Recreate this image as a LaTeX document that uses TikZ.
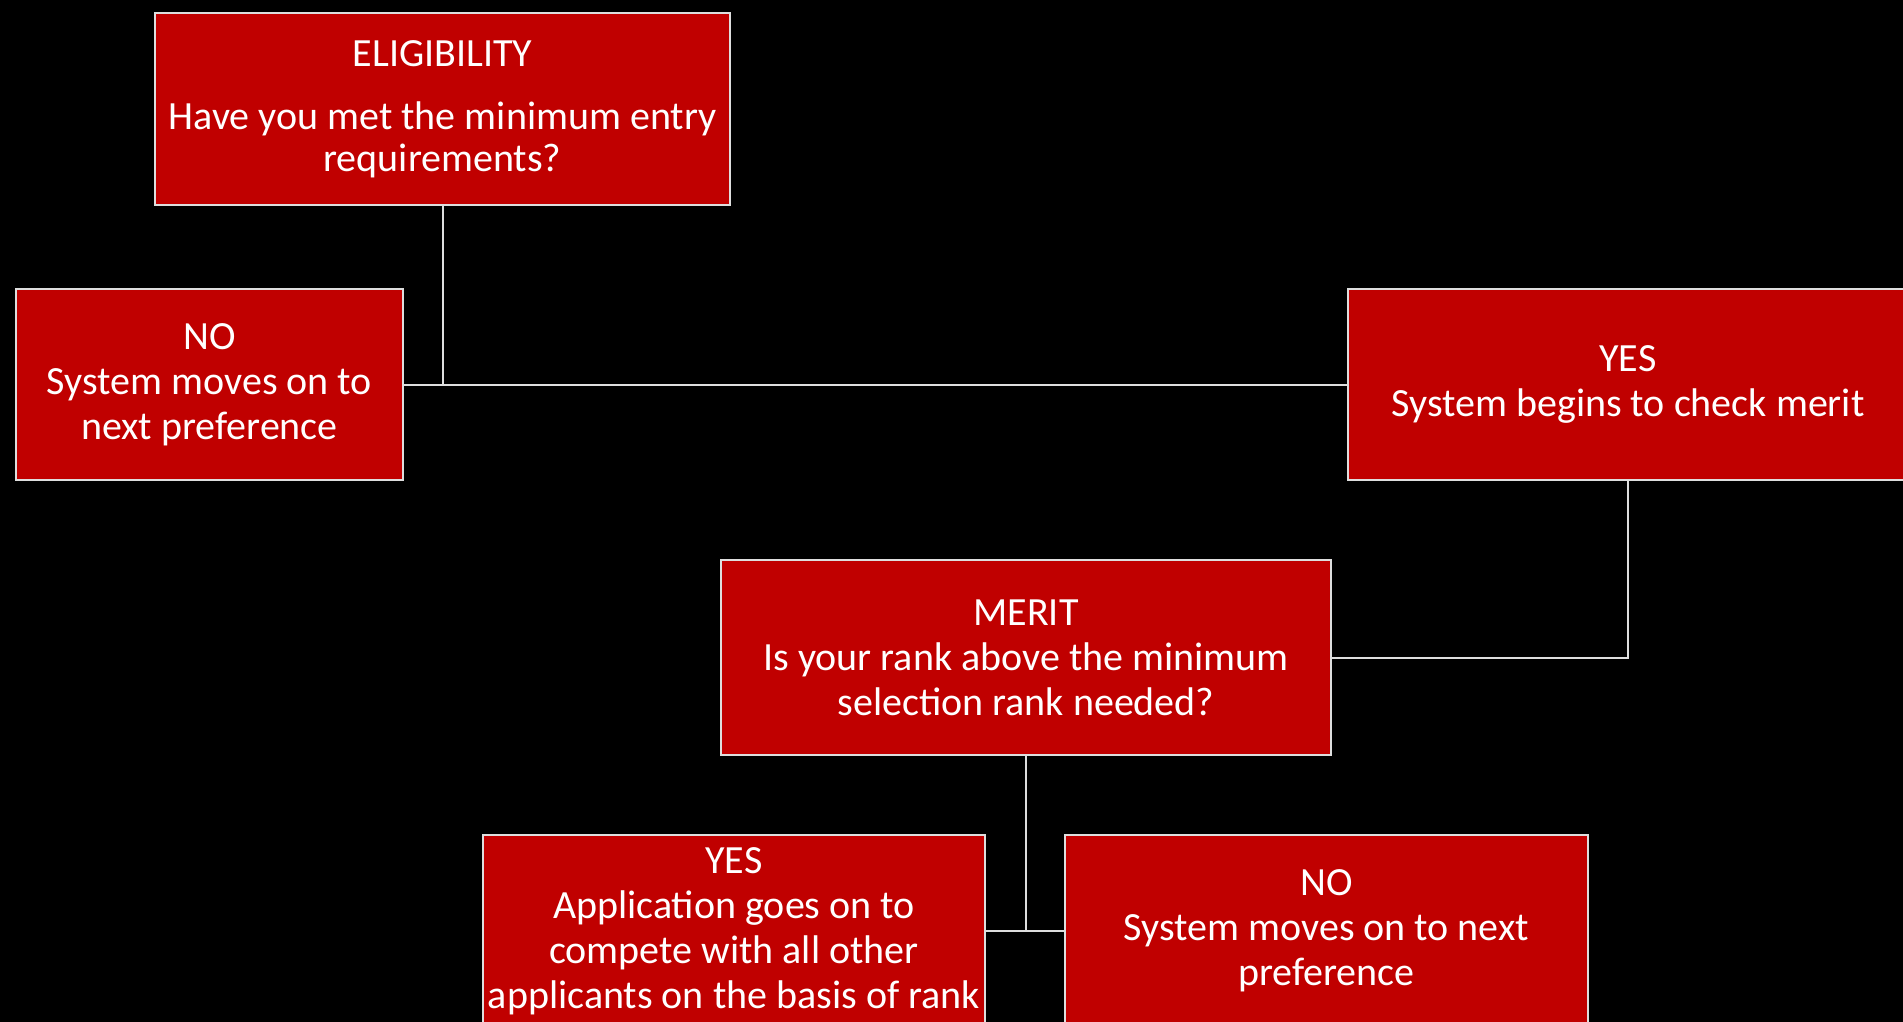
\documentclass[tikz,border=0pt]{standalone}
\usepackage{fontspec}
\setmainfont{Carlito}
\definecolor{boxred}{RGB}{192,0,0}
\definecolor{edgegray}{RGB}{222,222,222}
\tikzset{
  flowbox/.style={draw=edgegray, line width=2pt, fill=boxred, text=white,
    align=center, inner sep=0pt, anchor=north west,
    font=\fontsize{40}{45}\selectfont},
  link/.style={draw=edgegray, line width=2pt}
}
\begin{document}
\begin{tikzpicture}[x=1pt,y=-1pt]
\fill[black] (0,0) rectangle (1903,1022);
\useasboundingbox (0,0) rectangle (1903,1022);
\clip (0,0) rectangle (1903,1022);

\node[flowbox, minimum width=575pt, minimum height=192pt,
  font=\fontsize{40}{42.5}\selectfont] (elig) at (154,12)
  {ELIGIBILITY\\[20.5pt]Have you met the minimum entry\\requirements?};
\node[flowbox, minimum width=387pt, minimum height=191pt] (no1) at (15,288)
  {NO\\System moves on to\\next preference};
\node[flowbox, minimum width=560pt, minimum height=191pt] (yes1) at (1347,288)
  {YES\\System begins to check merit};
\node[flowbox, minimum width=610pt, minimum height=195pt] (merit) at (720,559)
  {MERIT\\Is your rank above the minimum\\selection rank needed?};
\node[flowbox, minimum width=502pt, minimum height=192pt] (yes2) at (482,834)
  {YES\\Application goes on to\\compete with all other\\applicants on the basis of rank};
\node[flowbox, minimum width=523pt, minimum height=192pt] (no2) at (1064,834)
  {NO\\System moves on to next\\preference};

\draw[link] (elig.south) -- (elig.south |- no1.east);
\draw[link] (no1.east) -- (yes1.west);
\draw[link] (yes1.south) |- (merit.east);
\draw[link] (merit.south) -- (merit.south |- yes2.east);
\draw[link] (yes2.east) -- (no2.west);
\end{tikzpicture}
\end{document}
